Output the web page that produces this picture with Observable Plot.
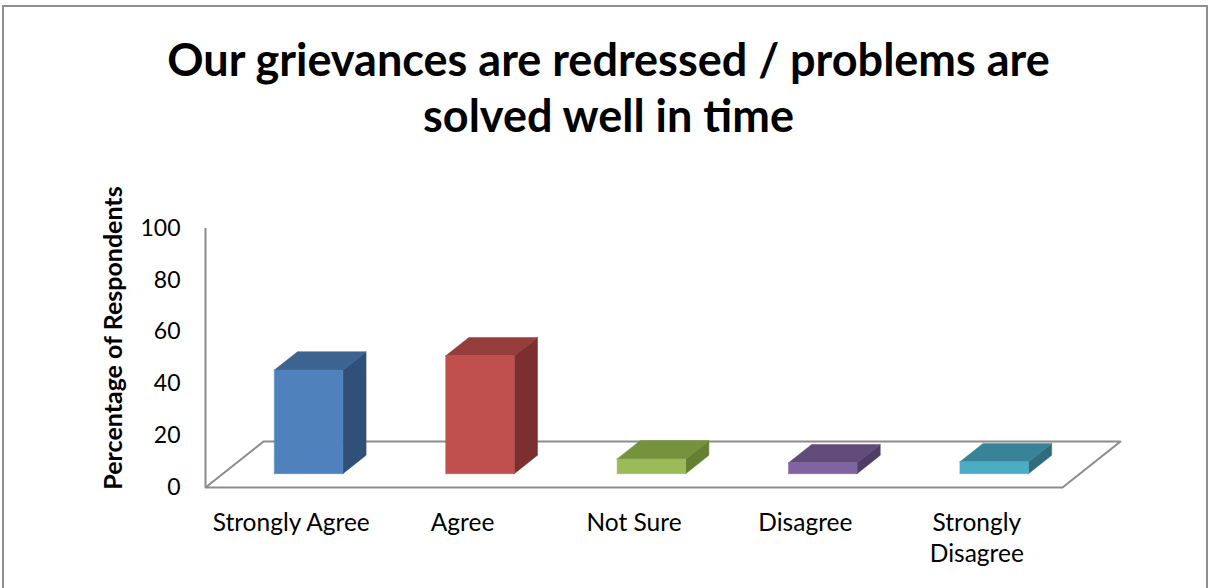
<!DOCTYPE html>
<html>
<head>
<meta charset="utf-8">
<script src="https://cdn.jsdelivr.net/npm/d3@7"></script>
<script src="https://cdn.jsdelivr.net/npm/@observablehq/plot@0.6"></script>
<style>
  html, body { margin: 0; padding: 0; background: #fff; }
  #wrap { position: relative; width: 1211px; height: 588px; overflow: hidden; font-family: Lato, "Open Sans", sans-serif; }
  #border { position: absolute; left: 2px; top: 5px; width: 1206px; height: 700px; border: 2px solid #8e8e8e; box-sizing: border-box; }
  #title { position: absolute; left: 3px; top: 31px; width: 1211px; text-align: center; font: bold 45px/56px Lato, sans-serif; color: #000; }
  #chart { position: absolute; left: 0; top: 160px; }
</style>
</head>
<body>
<div id="wrap">
  <div id="border"></div>
  <div id="title">Our grievances are redressed / problems are<br>solved well in time</div>
  <div id="chart"></div>
</div>
<script>
// ---- data ----
const categories = ["Strongly Agree", "Agree", "Not Sure", "Disagree", "Strongly Disagree"];
const tickLabels = ["Strongly Agree", "Agree", "Not Sure", "Disagree", "Strongly\nDisagree"];
const values = [40, 45.5, 5.7, 4.2, 4.6];
const yTicks = [0, 20, 40, 60, 80, 100];
const frontColors = ["#4F81BD", "#C0504D", "#9BBB59", "#8064A2", "#4BACC6"];
const topColors   = ["#3D6391", "#953D3B", "#76923C", "#604B7B", "#388398"];
const sideColors  = ["#2F5077", "#7B2F2E", "#657F33", "#4F3D66", "#2F6C7D"];
const yLabel = "Percentage of Respondents";

// ---- layout ----
const W = 1211, H = 428, ML = 205, MR = 149, MT = 68, MB = 101;
const pxPerX = (W - ML - MR) / categories.length;
const pxPerY = (H - MT - MB) / 100;
// oblique depth of the floor, in pixels, converted to data units
const depthX = 58 / pxPerX, depthY = 46 / pxPerY;
const proj = (x, v, z) => ({x: x + z * depthX, y: v + z * depthY});

// floor outline
const floor = [[0, 0], [categories.length, 0], [categories.length, 1], [0, 1], [0, 0]]
  .map(([x, z]) => proj(x, 0, z));

// bar faces
const x0 = 0.3, x1 = 0.7, z0 = 0.3, z1 = 0.7;
const faces = [];
values.forEach((v, i) => {
  const add = (id, color, pts) => {
    pts.concat([pts[0]]).forEach(([x, y, z]) => faces.push({id: id + i, color, ...proj(i + x, y, z)}));
  };
  add("side", sideColors[i], [[x1, 0, z0], [x1, 0, z1], [x1, v, z1], [x1, v, z0]]);
  add("top", topColors[i], [[x0, v, z0], [x1, v, z0], [x1, v, z1], [x0, v, z1]]);
  add("front", frontColors[i], [[x0, 0, z0], [x1, 0, z0], [x1, v, z0], [x0, v, z0]]);
});

const chart = Plot.plot({
  width: W, height: H,
  marginLeft: ML, marginRight: MR, marginTop: MT, marginBottom: MB,
  x: {type: "linear", domain: [0, categories.length]},
  y: {domain: [0, 100]},
  color: {type: "identity"},
  style: {fontFamily: "Lato, sans-serif", color: "#000", background: "transparent", overflow: "visible"},
  marks: [
    Plot.axisY({ticks: yTicks, tickSize: 0, tickPadding: 25, fontSize: 23, label: null}),
    Plot.axisX({
      ticks: categories.map((_, i) => i + 0.5),
      tickFormat: (d) => tickLabels[Math.floor(d)],
      tickSize: 0, tickPadding: 21, fontSize: 24.5, lineHeight: 1.28, label: null
    }),
    Plot.line(floor, {x: "x", y: "y", stroke: "#8c8c8c", strokeWidth: 2}),
    Plot.ruleX([0], {y1: 0, y2: 100, stroke: "#8c8c8c", strokeWidth: 2}),
    Plot.line(faces, {x: "x", y: "y", z: "id", fill: "color", stroke: "color", strokeWidth: 0.5}),
    Plot.text([yLabel], {frameAnchor: "left", textAnchor: "middle", dx: -92, dy: -20, rotate: -90, fontWeight: "bold", fontSize: 25, fill: "#000"})
  ]
});
document.getElementById("chart").appendChild(chart);
</script>
</body>
</html>
